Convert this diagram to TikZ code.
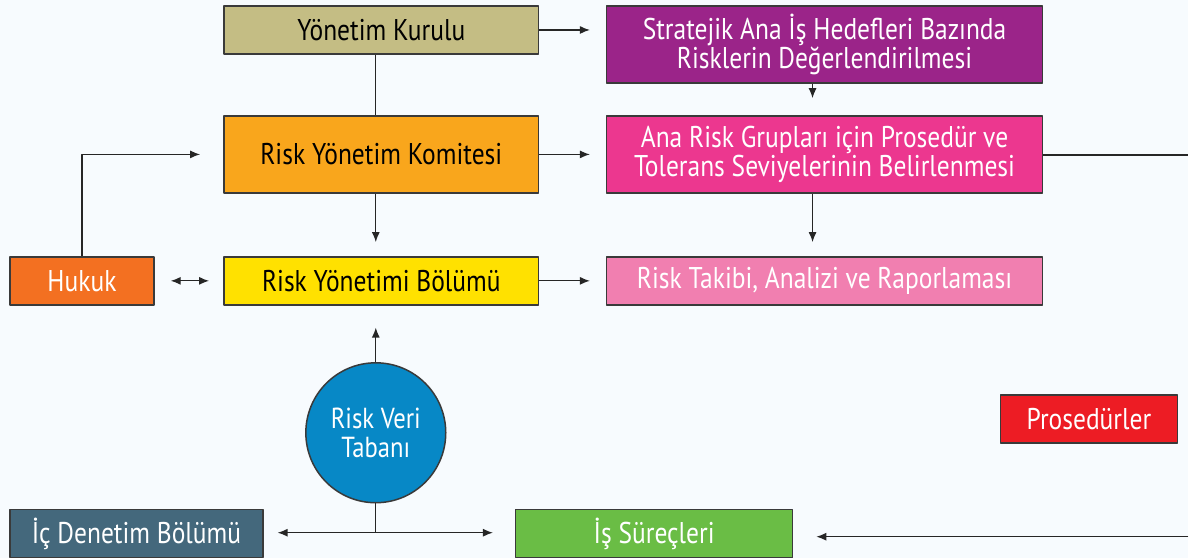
\documentclass[tikz,border=0pt]{standalone}
\usepackage{fontspec}
\setmainfont{PT Sans}[FakeStretch=0.85]
\usetikzlibrary{arrows.meta}
\definecolor{zemin}{HTML}{F7FBFE}
\definecolor{cizgi}{HTML}{3A3A3A}
\definecolor{kurulrenk}{HTML}{C4BD84}
\definecolor{stratejirenk}{HTML}{9B2489}
\definecolor{komiterenk}{HTML}{F9A61C}
\definecolor{anariskrenk}{HTML}{EC378F}
\definecolor{hukukrenk}{HTML}{F37021}
\definecolor{bolumrenk}{HTML}{FFE100}
\definecolor{takiprenk}{HTML}{F17FB0}
\definecolor{verirenk}{HTML}{0788C6}
\definecolor{prosedurrenk}{HTML}{ED1C24}
\definecolor{denetimrenk}{HTML}{44687C}
\definecolor{surecrenk}{HTML}{6ABD45}
\begin{document}
\begin{tikzpicture}[x=1pt,y=-1pt,>={Latex[length=10pt,width=8pt]}, line join=round,
	kutu/.style={draw=cizgi,line width=1.5pt,inner sep=0pt,align=center,
		font=\fontsize{30}{27}\selectfont},
	genis/.style={kutu,minimum width=436pt},
	orta/.style={kutu,minimum width=315pt},
	ok/.style={->,line width=1.3pt,draw=black!85},
	cift/.style={<->,line width=1.3pt,draw=black!85},
	duz/.style={line width=1.3pt,draw=black!85}]
	\fill[zemin] (0,0) rectangle (1189,558);
	% Kutular
	\node[orta,fill=kurulrenk,minimum height=48pt] (kurul) at (381.5,30) {Yönetim Kurulu};
	\node[orta,fill=komiterenk,minimum height=77pt] (komite) at (381.5,154.5) {Risk Yönetim Komitesi};
	\node[orta,fill=bolumrenk,minimum height=48pt] (bolum) at (381.5,281) {Risk Yönetimi Bölümü};
	\node[genis,fill=stratejirenk,text=white,minimum height=77pt] (strateji) at (825,44.5) {Stratejik Ana İş Hedefleri Bazında\\Risklerin Değerlendirilmesi};
	\node[genis,fill=anariskrenk,text=white,minimum height=77pt] (anarisk) at (825,154.5) {Ana Risk Grupları için Prosedür ve\\Tolerans Seviyelerinin Belirlenmesi};
	\node[genis,fill=takiprenk,text=white,minimum height=48pt] (takip) at (825,281) {Risk Takibi, Analizi ve Raporlaması};
	\node[kutu,fill=hukukrenk,text=white,minimum width=144pt,minimum height=48pt] (hukuk) at (82,281) {Hukuk};
	\node[kutu,circle,fill=verirenk,text=white,minimum size=140pt,font=\fontsize{29}{29}\selectfont] (veri) at (376,433) {Risk Veri\\Tabanı};
	\node[kutu,fill=prosedurrenk,text=white,minimum width=177pt,minimum height=48pt] (prosedur) at (1089.5,419) {Prosedürler};
	\node[kutu,fill=denetimrenk,text=white,minimum width=253pt,minimum height=48pt] (denetim) at (136.5,534) {İç Denetim Bölümü};
	\node[kutu,fill=surecrenk,text=white,minimum width=277pt,minimum height=48pt] (surec) at (654.5,534) {İş Süreçleri};
	\coordinate (sagust) at (1189,155);
	\coordinate (sagalt) at (1189,537);
	\coordinate (kol) at (376,533);
	% Baglantilar
	\draw[duz] (kurul.south -| veri.center) -- (komite.north -| veri.center);
	\draw[ok,shorten >=16pt] (kurul) -- (kurul -| strateji.west);
	\draw[ok,shorten >=16pt] (komite) -- (anarisk);
	\draw[ok,shorten >=16pt] (bolum) -- (takip);
	\draw[ok,shorten >=17pt] ([xshift=-12pt]strateji.south) -- ([xshift=-12pt]anarisk.north);
	\draw[ok,shorten >=14pt] ([xshift=-12pt]anarisk.south) -- ([xshift=-12pt]takip.north);
	\draw[ok,shorten >=14pt] (komite.south -| veri.center) -- (bolum.north -| veri.center);
	\draw[cift,shorten <=16pt,shorten >=14pt] (hukuk) -- (bolum);
	\draw[ok,shorten >=23pt] (hukuk.north) |- (komite.west);
	\draw[duz] (anarisk.east |- sagust) -- (sagust);
	\draw[ok,shorten >=22pt] (veri) -- (bolum.south -| veri.center);
	\draw[duz] (veri) -- (kol);
	\draw[ok,shorten >=14pt] (kol) -- (kol -| denetim.east);
	\draw[ok,shorten >=22pt] (kol) -- (kol -| surec.west);
	\draw[ok,shorten >=23pt] (sagalt) -- (sagalt -| surec.east);
\end{tikzpicture}
\end{document}
